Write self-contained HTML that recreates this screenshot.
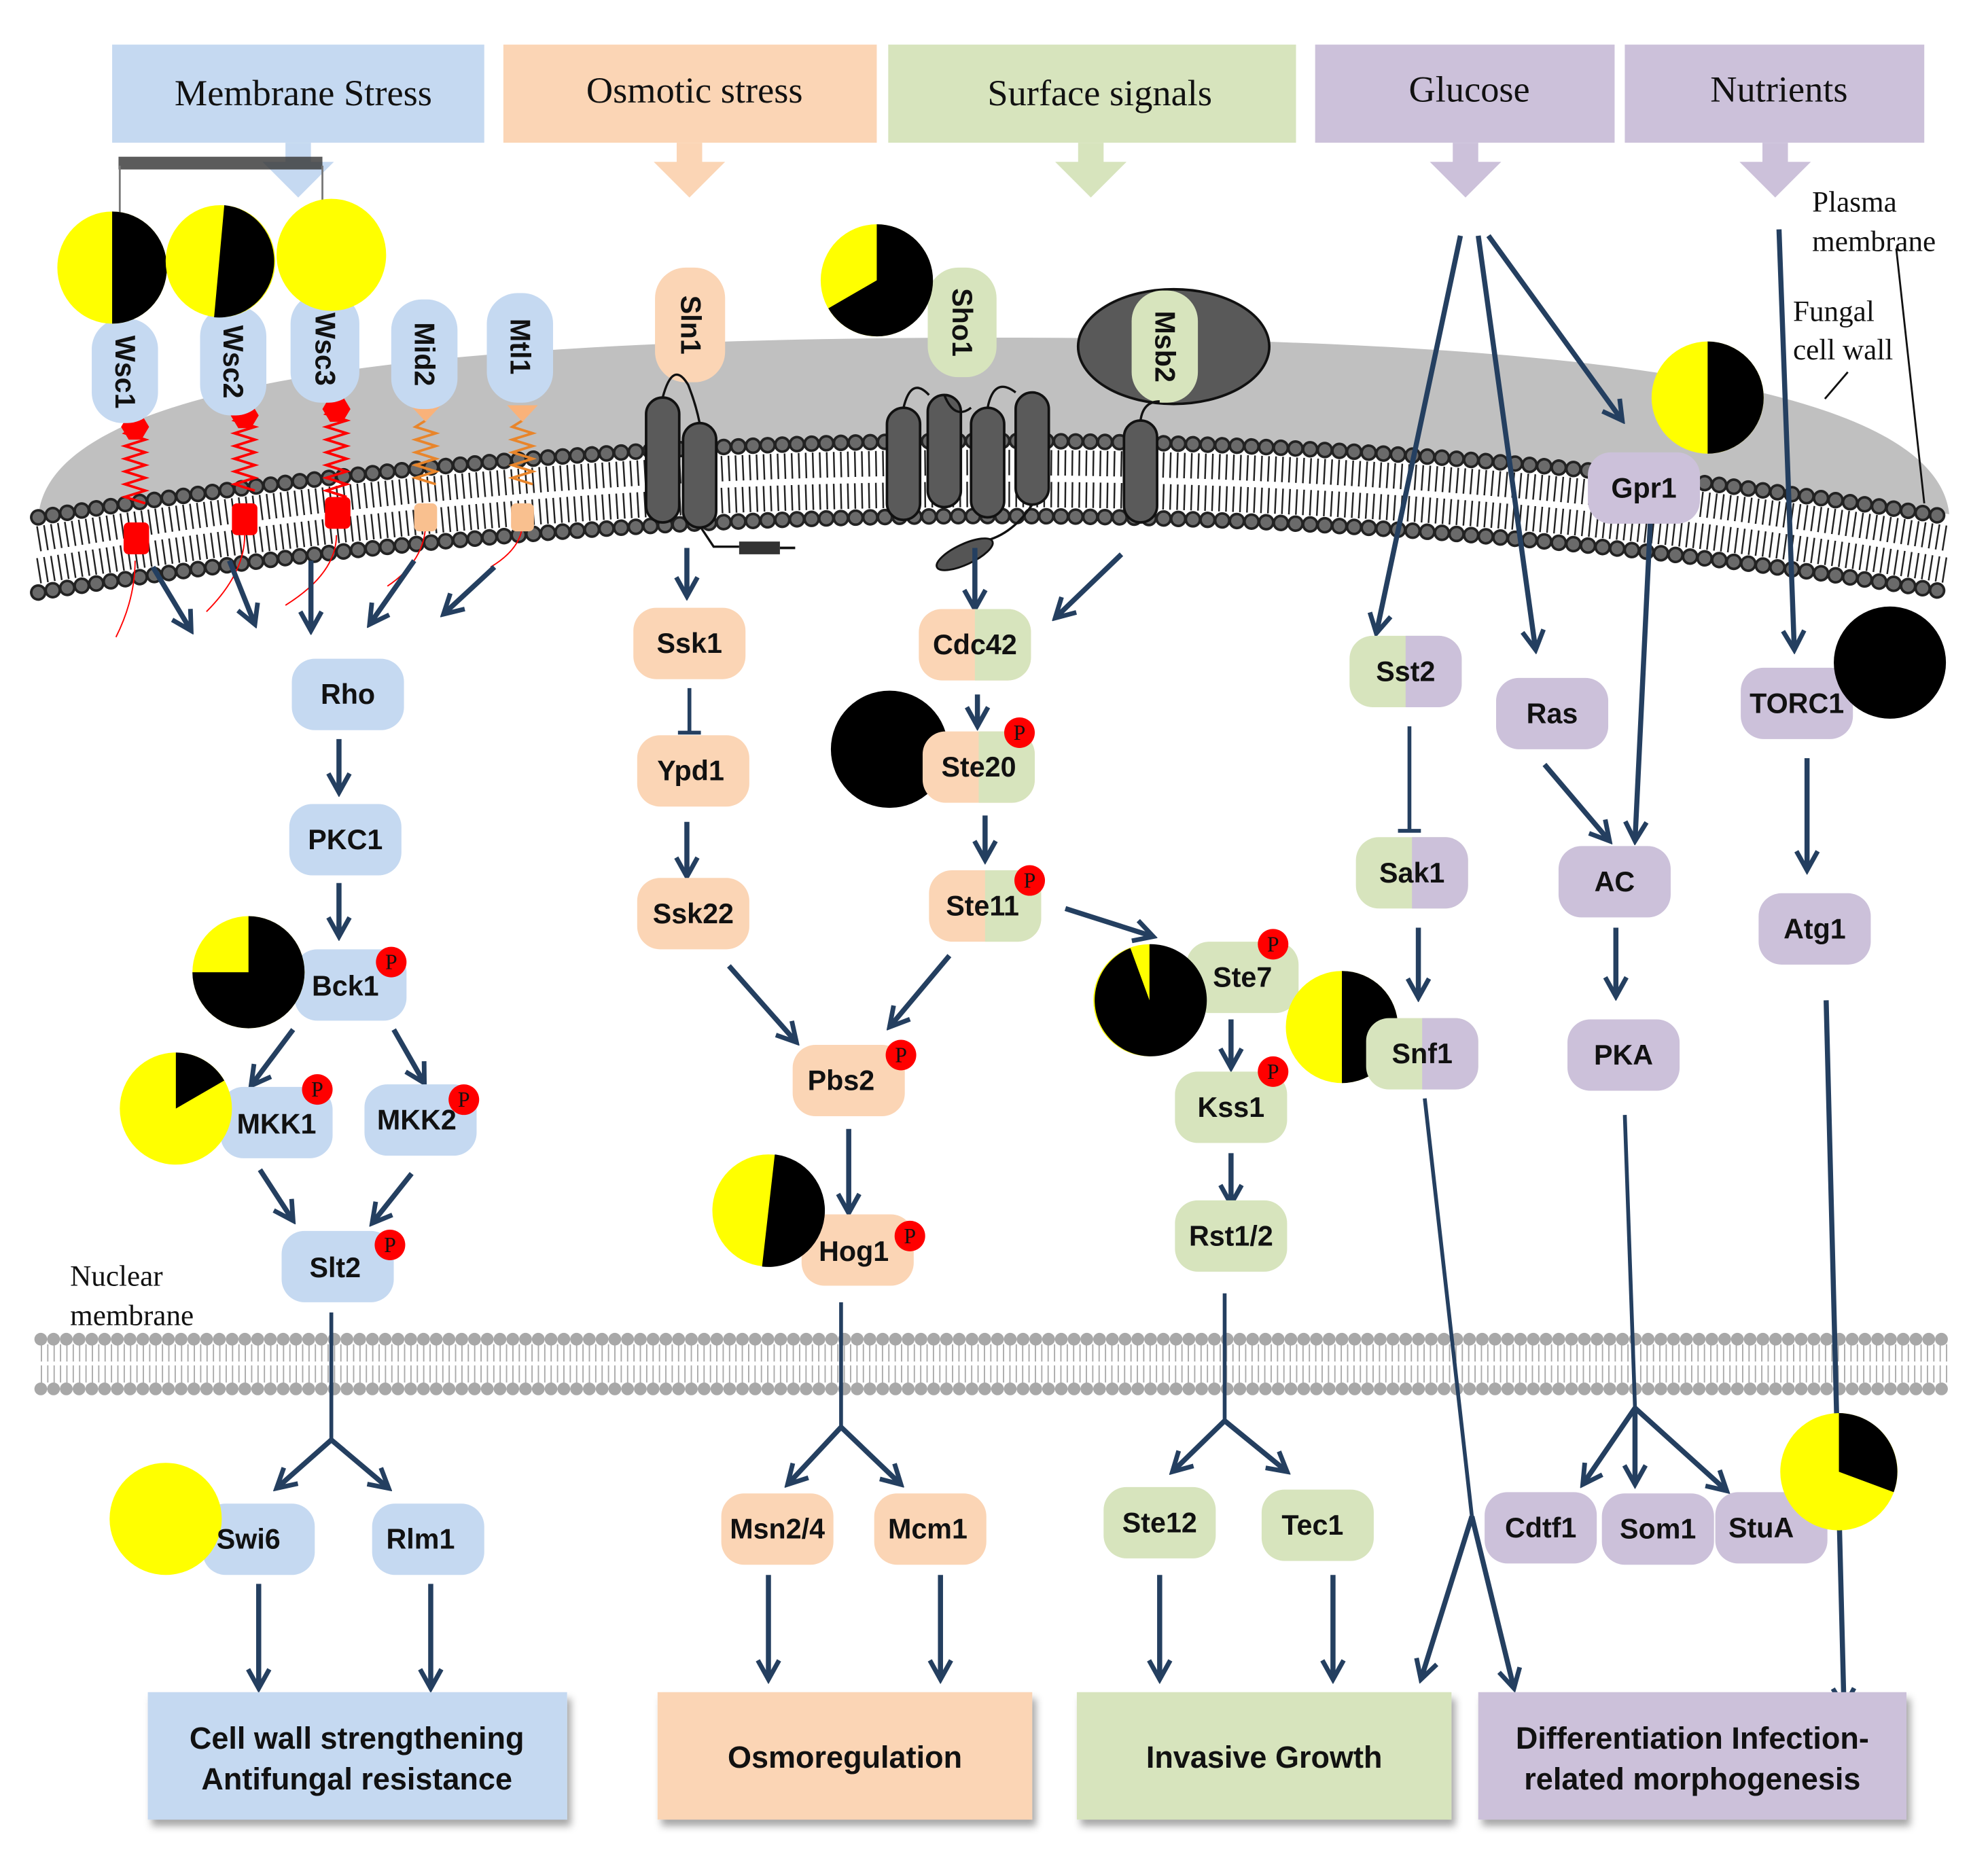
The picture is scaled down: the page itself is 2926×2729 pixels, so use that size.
<!DOCTYPE html>
<html><head><meta charset="utf-8"><style>
html,body{margin:0;padding:0;background:#fff}
svg{display:block}
.n{font-family:"Liberation Sans",sans-serif;font-weight:bold;font-size:22px;fill:#111;text-anchor:middle;dominant-baseline:central}
.h{font-family:"Liberation Serif",serif;font-size:29px;fill:#111;text-anchor:middle;dominant-baseline:central}
.s{font-family:"Liberation Serif",serif;font-size:23px;fill:#111}
.b{font-family:"Liberation Sans",sans-serif;font-weight:bold;font-size:24px;fill:#111;text-anchor:middle;dominant-baseline:central}
.p{font-family:"Liberation Serif",serif;font-size:17px;fill:#111;text-anchor:middle;dominant-baseline:central}
.a{stroke:#243f60;stroke-width:4;fill:none;marker-end:url(#ah)}
.l{stroke:#243f60;stroke-width:3;fill:none}
</style></head><body>
<svg width="2926" height="2729" viewBox="0 0 1560 1455" preserveAspectRatio="none" xmlns="http://www.w3.org/2000/svg">
<defs>
<marker id="ah" viewBox="0 0 12 12" refX="10" refY="6" markerWidth="5" markerHeight="5" orient="auto" markerUnits="strokeWidth">
<path d="M1,1 L10,6 L1,11" fill="none" stroke="#243f60" stroke-width="2.2"/>
</marker>
<filter id="sh" x="-5%" y="-5%" width="115%" height="125%"><feDropShadow dx="3" dy="5" stdDeviation="3" flood-color="#000" flood-opacity="0.35"/></filter>
</defs>

<!-- headers -->
<rect x="88" y="35" width="292" height="77" fill="#c5d9f1"/>
<rect x="395" y="35" width="293" height="77" fill="#fbd5b5"/>
<rect x="697" y="35" width="320" height="77" fill="#d7e4bd"/>
<rect x="1032" y="35" width="235" height="77" fill="#ccc1da"/>
<rect x="1275" y="35" width="235" height="77" fill="#ccc1da"/>
<text class="h" x="238" y="73">Membrane Stress</text>
<text class="h" x="545" y="71">Osmotic stress</text>
<text class="h" x="863" y="73">Surface signals</text>
<text class="h" x="1153" y="70">Glucose</text>
<text class="h" x="1396" y="70">Nutrients</text>
<path d="M224,112h20v15h18l-28,28l-28,-28h18z" fill="#c5d9f1"/>
<path d="M531,112h20v15h18l-28,28l-28,-28h18z" fill="#fbd5b5"/>
<path d="M846,112h20v15h18l-28,28l-28,-28h18z" fill="#d7e4bd"/>
<path d="M1140,112h20v15h18l-28,28l-28,-28h18z" fill="#ccc1da"/>
<path d="M1383,112h20v15h18l-28,28l-28,-28h18z" fill="#ccc1da"/>
<rect x="93" y="123" width="160" height="10" fill="#333" opacity="0.8"/>
<path d="M94,130V175M253,130V170" stroke="#777" stroke-width="1.5"/>

<!-- cell wall dome -->
<path d="M30,410 C30,300 330,265 780,265 C1230,265 1530,300 1530,410 Q780,290 30,410 Z" fill="#c0c0c0"/>
<!-- bilayer -->
<path d="M30,435 Q780,315 1530,435" stroke="#fff" stroke-width="62" fill="none"/>
<path d="M30,423 Q780,303 1530,423" stroke="#222" stroke-width="20" stroke-dasharray="1.3 4.2" fill="none"/>
<path d="M30,448 Q780,328 1530,448" stroke="#222" stroke-width="20" stroke-dasharray="1.3 4.2" fill="none"/>
<path d="M30,435 Q780,315 1530,435" stroke="#fff" stroke-width="4" fill="none"/>
<path d="M30,406 Q780,286 1530,406" stroke="#222" stroke-width="13" stroke-dasharray="0.01 11.5" stroke-linecap="round" fill="none"/>
<path d="M30,406 Q780,286 1530,406" stroke="#6a6a6a" stroke-width="9" stroke-dasharray="0.01 11.5" stroke-linecap="round" fill="none"/>
<path d="M30,465 Q780,345 1530,465" stroke="#222" stroke-width="13" stroke-dasharray="0.01 11.5" stroke-linecap="round" fill="none"/>
<path d="M30,465 Q780,345 1530,465" stroke="#6a6a6a" stroke-width="9" stroke-dasharray="0.01 11.5" stroke-linecap="round" fill="none"/>

<!-- nuclear membrane -->
<rect x="32" y="1050" width="1498" height="40" fill="#fff"/>
<path d="M32,1070H1530" stroke="#aaa" stroke-width="30" stroke-dasharray="1 4" fill="none"/>
<path d="M32,1070H1530" stroke="#fff" stroke-width="3"/>
<path d="M32,1051H1530M32,1090H1530" stroke="#a8a8a8" stroke-width="10" stroke-dasharray="0.01 10" stroke-linecap="round"/>

<!-- receptors stalks -->
<g stroke-width="2" fill="none">
<path d="M106,335 l-8,5 16,5 -16,5 16,5 -16,5 16,5 -16,5 16,5 -16,5 16,5 -16,5 16,5" stroke="red"/>
<path d="M192,325 l-8,5 16,5 -16,5 16,5 -16,5 16,5 -16,5 16,5 -16,5 16,5 -16,5 16,5" stroke="red"/>
<path d="M264,320 l-8,5 16,5 -16,5 16,5 -16,5 16,5 -16,5 16,5 -16,5 16,5 -16,5 16,5 -16,5 16,5" stroke="red"/>
<path d="M334,330 l-8,5 16,5 -16,5 16,5 -16,5 16,5 -16,5 16,5 -16,5 16,5" stroke="#e8852b"/>
<path d="M410,330 l-8,5 16,5 -16,5 16,5 -16,5 16,5 -16,5 16,5 -16,5 16,5" stroke="#e8852b"/>
<path d="M106,440 q0,30 -15,60M192,420 q0,30 -30,60M264,420 q0,30 -40,55M334,410 q0,30 -30,50M410,410 q0,20 -25,35" stroke="red" stroke-width="1"/>
</g>
<path d="M95,335l6,-10h10l6,10l-6,10h-10z" fill="red"/>
<path d="M181,326l6,-10h10l6,10l-6,10h-10z" fill="red"/>
<path d="M253,321l6,-10h10l6,10l-6,10h-10z" fill="red"/>
<path d="M322,318h24l-12,13z" fill="#f9b27a"/>
<path d="M398,318h24l-12,13z" fill="#f9b27a"/>
<rect x="97" y="410" width="20" height="25" rx="4" fill="red"/>
<rect x="182" y="395" width="20" height="25" rx="4" fill="red"/>
<rect x="255" y="390" width="20" height="25" rx="4" fill="red"/>
<rect x="325" y="395" width="18" height="22" rx="4" fill="#f9c08f"/>
<rect x="401" y="395" width="18" height="22" rx="4" fill="#f9c08f"/>

<!-- receptor pills -->
<rect x="72" y="250" width="52" height="82" rx="24" fill="#c5d9f1"/>
<rect x="157" y="240" width="52" height="86" rx="24" fill="#c5d9f1"/>
<rect x="228" y="230" width="54" height="86" rx="24" fill="#c5d9f1"/>
<rect x="307" y="235" width="52" height="86" rx="24" fill="#c5d9f1"/>
<rect x="382" y="230" width="52" height="86" rx="24" fill="#c5d9f1"/>
<text class="n" transform="translate(98,292) rotate(90)">Wsc1</text>
<text class="n" transform="translate(183,284) rotate(90)">Wsc2</text>
<text class="n" transform="translate(255,274) rotate(90)">Wsc3</text>
<text class="n" transform="translate(333,278) rotate(90)">Mid2</text>
<text class="n" transform="translate(408,272) rotate(90)">Mtl1</text>

<rect x="514" y="210" width="55" height="90" rx="24" fill="#fbd5b5"/>
<text class="n" transform="translate(542,255) rotate(90)">Sln1</text>
<rect x="728" y="210" width="54" height="86" rx="24" fill="#d7e4bd"/>
<text class="n" transform="translate(755,253) rotate(90)">Sho1</text>
<ellipse cx="921" cy="272" rx="75" ry="45" fill="#595959" stroke="#111" stroke-width="2"/>
<rect x="888" y="228" width="52" height="88" rx="24" fill="#d7e4bd"/>
<text class="n" transform="translate(914,272) rotate(90)">Msb2</text>

<!-- TM helices -->
<g fill="#5a5a5a" stroke="#111" stroke-width="2">
<rect x="507" y="312" width="26" height="98" rx="13"/>
<rect x="536" y="332" width="26" height="82" rx="13"/>
<rect x="696" y="320" width="26" height="88" rx="13"/>
<rect x="728" y="310" width="26" height="88" rx="13"/>
<rect x="762" y="320" width="26" height="86" rx="13"/>
<rect x="797" y="308" width="26" height="88" rx="13"/>
<rect x="882" y="330" width="26" height="80" rx="13"/>
</g>
<g stroke="#111" stroke-width="1.8" fill="none">
<path d="M520,312 q8,-30 20,-10 q6,15 9,30M709,320 q6,-25 20,-10M741,310 q8,20 21,10M775,320 q5,-25 22,-12M895,330 q2,-15 15,-15M550,414 l10,15 h20"/>
<path d="M810,396 q-20,30 -50,30"/>
</g>
<rect x="580" y="425" width="32" height="10" fill="#333"/>
<path d="M612,430h12" stroke="#111" stroke-width="2"/>
<ellipse cx="757" cy="435" rx="24" ry="8" transform="rotate(-25 757 435)" fill="#555" stroke="#111" stroke-width="1.5"/>

<!-- pies top -->
<ellipse cx="88" cy="210" rx="43" ry="44" fill="#ffff00"/><path d="M88,166 A43,44 0 0 1 88,254 Z" fill="#000"/>
<ellipse cx="173" cy="205" rx="43" ry="44" fill="#ffff00"/><path d="M176,161 A43,44 0 0 1 168,249 Z" fill="#000"/>
<ellipse cx="260" cy="200" rx="43" ry="44" fill="#ffff00"/>
<circle cx="688" cy="220" r="44" fill="#ffff00"/><path d="M688,220 L688,176 A44,44 0 1 1 650,242 Z" fill="#000"/>
<circle cx="1340" cy="312" r="44" fill="#ffff00"/><path d="M1340,268 A44,44 0 0 1 1340,356 Z" fill="#000"/>

<!-- labels right -->
<text class="s" x="1422" y="166">Plasma</text>
<text class="s" x="1422" y="197">membrane</text>
<text class="s" x="1407" y="252">Fungal</text>
<text class="s" x="1407" y="282">cell wall</text>
<path d="M1488,195 L1510,395 M1450,292 L1432,313" stroke="#111" stroke-width="1.5"/>
<text class="s" x="55" y="1009">Nuclear</text>
<text class="s" x="55" y="1040">membrane</text>

<!-- arrows -->
<path class="a" d="M120,445 L150,495"/>
<path class="a" d="M180,440 L200,490"/>
<path class="a" d="M244,440 L244,495"/>
<path class="a" d="M325,440 L290,490"/>
<path class="a" d="M388,445 L348,482"/>
<path class="a" d="M266,580 L266,622"/>
<path class="a" d="M266,693 L266,735"/>
<path class="a" d="M230,808 L197,852"/>
<path class="a" d="M309,808 L333,850"/>
<path class="a" d="M204,918 L230,958"/>
<path class="a" d="M323,921 L292,960"/>
<path class="l" d="M260,1030 L260,1130"/>
<path class="a" d="M260,1130 L217,1168"/>
<path class="a" d="M260,1130 L305,1168"/>
<path class="a" d="M203,1243 L203,1325"/>
<path class="a" d="M338,1243 L338,1325"/>
<path class="a" d="M539,430 L539,468"/>
<path class="l" d="M541,540 L541,575 M532,575 H550"/>
<path class="a" d="M539,645 L539,688"/>
<path class="a" d="M572,758 L625,818"/>
<path class="a" d="M745,750 L698,806"/>
<path class="a" d="M666,886 L666,952"/>
<path class="l" d="M660,1022 L660,1120"/>
<path class="a" d="M660,1120 L618,1165"/>
<path class="a" d="M660,1120 L707,1165"/>
<path class="a" d="M603,1236 L603,1318"/>
<path class="a" d="M738,1236 L738,1318"/>
<path class="a" d="M765,430 L765,478"/>
<path class="a" d="M880,435 L828,485"/>
<path class="a" d="M767,545 L767,570"/>
<path class="a" d="M773,640 L773,675"/>
<path class="a" d="M836,713 L905,735"/>
<path class="a" d="M966,800 L966,838"/>
<path class="a" d="M966,905 L966,945"/>
<path class="l" d="M961,1015 L961,1115"/>
<path class="a" d="M961,1115 L920,1155"/>
<path class="a" d="M961,1115 L1010,1155"/>
<path class="a" d="M910,1236 L910,1318"/>
<path class="a" d="M1046,1236 L1046,1318"/>
<path class="a" d="M1146,185 L1080,497"/>
<path class="a" d="M1160,185 L1205,510"/>
<path class="a" d="M1168,185 L1273,330"/>
<path class="l" d="M1106,570 L1106,652 M1097,652 H1115"/>
<path class="a" d="M1113,728 L1113,783"/>
<path class="l" d="M1118,862 L1155,1190"/>
<path class="a" d="M1155,1190 L1115,1318"/>
<path class="a" d="M1155,1190 L1188,1325"/>
<path class="a" d="M1212,600 L1263,660"/>
<path class="a" d="M1295,410 L1283,660"/>
<path class="a" d="M1268,728 L1268,782"/>
<path class="l" d="M1275,875 L1283,1105"/>
<path class="a" d="M1283,1105 L1242,1165"/>
<path class="a" d="M1283,1105 L1283,1165"/>
<path class="a" d="M1283,1105 L1355,1170"/>
<path class="a" d="M1396,180 L1408,510"/>
<path class="a" d="M1418,595 L1418,683"/>
<path class="a" d="M1433,785 L1447,1340"/>

<!-- nodes -->
<g>
<rect x="229" y="517" width="88" height="56" rx="18" fill="#c5d9f1"/><text class="n" x="273" y="545">Rho</text>
<rect x="227" y="631" width="88" height="56" rx="18" fill="#c5d9f1"/><text class="n" x="271" y="659">PKC1</text>
<rect x="231" y="745" width="88" height="56" rx="18" fill="#c5d9f1"/>
<rect x="173" y="853" width="88" height="56" rx="18" fill="#c5d9f1"/>
<rect x="286" y="851" width="88" height="56" rx="18" fill="#c5d9f1"/><text class="n" x="327" y="879">MKK2</text>
<rect x="221" y="966" width="88" height="56" rx="18" fill="#c5d9f1"/><text class="n" x="263" y="995">Slt2</text>
<rect x="159" y="1180" width="88" height="56" rx="18" fill="#c5d9f1"/>
<rect x="292" y="1180" width="88" height="56" rx="18" fill="#c5d9f1"/><text class="n" x="330" y="1208">Rlm1</text>

<rect x="497" y="477" width="88" height="56" rx="18" fill="#fbd5b5"/><text class="n" x="541" y="505">Ssk1</text>
<rect x="500" y="577" width="88" height="56" rx="18" fill="#fbd5b5"/><text class="n" x="542" y="605">Ypd1</text>
<rect x="500" y="689" width="88" height="56" rx="18" fill="#fbd5b5"/><text class="n" x="544" y="717">Ssk22</text>
<rect x="622" y="820" width="88" height="56" rx="18" fill="#fbd5b5"/><text class="n" x="660" y="848">Pbs2</text>
<rect x="629" y="953" width="88" height="56" rx="18" fill="#fbd5b5"/>
<rect x="566" y="1172" width="88" height="56" rx="18" fill="#fbd5b5"/><text class="n" x="610" y="1200">Msn2/4</text>
<rect x="686" y="1172" width="88" height="56" rx="18" fill="#fbd5b5"/><text class="n" x="728" y="1200">Mcm1</text>

<rect x="721" y="478" width="88" height="56" rx="18" fill="#fbd5b5"/><path d="M765,478h26a18,18 0 0 1 18,18v20a18,18 0 0 1 -18,18h-26z" fill="#d7e4bd"/><text class="n" x="765" y="506">Cdc42</text>
<circle cx="698" cy="588" r="46" fill="#000"/>
<rect x="724" y="574" width="88" height="56" rx="18" fill="#fbd5b5"/><path d="M768,574h26a18,18 0 0 1 18,18v20a18,18 0 0 1 -18,18h-26z" fill="#d7e4bd"/><text class="n" x="768" y="602">Ste20</text>
<rect x="729" y="683" width="88" height="56" rx="18" fill="#fbd5b5"/><path d="M773,683h26a18,18 0 0 1 18,18v20a18,18 0 0 1 -18,18h-26z" fill="#d7e4bd"/><text class="n" x="771" y="711">Ste11</text>

<rect x="931" y="739" width="88" height="56" rx="18" fill="#d7e4bd"/>
<rect x="922" y="841" width="88" height="56" rx="18" fill="#d7e4bd"/><text class="n" x="966" y="869">Kss1</text>
<rect x="922" y="942" width="88" height="56" rx="18" fill="#d7e4bd"/><text class="n" x="966" y="970">Rst1/2</text>
<rect x="866" y="1167" width="88" height="56" rx="18" fill="#d7e4bd"/><text class="n" x="910" y="1195">Ste12</text>
<rect x="990" y="1169" width="88" height="56" rx="18" fill="#d7e4bd"/><text class="n" x="1030" y="1197">Tec1</text>

<rect x="1059" y="499" width="88" height="56" rx="18" fill="#d7e4bd"/><path d="M1103,499h26a18,18 0 0 1 18,18v20a18,18 0 0 1 -18,18h-26z" fill="#ccc1da"/><text class="n" x="1103" y="527">Sst2</text>
<rect x="1064" y="657" width="88" height="56" rx="18" fill="#d7e4bd"/><path d="M1108,657h26a18,18 0 0 1 18,18v20a18,18 0 0 1 -18,18h-26z" fill="#ccc1da"/><text class="n" x="1108" y="685">Sak1</text>

<rect x="1174" y="532" width="88" height="56" rx="18" fill="#ccc1da"/><text class="n" x="1218" y="560">Ras</text>
<rect x="1246" y="355" width="88" height="56" rx="18" fill="#ccc1da"/><text class="n" x="1290" y="383">Gpr1</text>
<rect x="1366" y="524" width="88" height="56" rx="18" fill="#ccc1da"/>
<rect x="1223" y="664" width="88" height="56" rx="18" fill="#ccc1da"/><text class="n" x="1267" y="692">AC</text>
<rect x="1230" y="800" width="88" height="56" rx="18" fill="#ccc1da"/><text class="n" x="1274" y="828">PKA</text>
<rect x="1380" y="701" width="88" height="56" rx="18" fill="#ccc1da"/><text class="n" x="1424" y="729">Atg1</text>
<rect x="1165" y="1171" width="88" height="56" rx="18" fill="#ccc1da"/><text class="n" x="1209" y="1199">Cdtf1</text>
<rect x="1257" y="1172" width="88" height="56" rx="18" fill="#ccc1da"/><text class="n" x="1301" y="1200">Som1</text>
</g>

<!-- pies lower -->
<circle cx="195" cy="763" r="44" fill="#ffff00"/><path d="M195,763 L195,719 A44,44 0 1 1 151,763 Z" fill="#000"/>
<text class="n" x="271" y="774">Bck1</text>
<circle cx="138" cy="870" r="44" fill="#ffff00"/><path d="M138,870 L138,826 A44,44 0 0 1 176,848 Z" fill="#000"/>
<text class="n" x="217" y="882">MKK1</text>
<circle cx="603" cy="950" r="44" fill="#ffff00"/><path d="M608,906 A44,44 0 0 1 598,994 Z" fill="#000"/>
<text class="n" x="670" y="982">Hog1</text>
<circle cx="902" cy="785" r="44" fill="#ffff00"/><path d="M902,785 L902,741 A44,44 0 1 1 887,744 Z" fill="#000"/>
<text class="n" x="975" y="767">Ste7</text>
<circle cx="1053" cy="806" r="44" fill="#ffff00"/><path d="M1053,762 A44,44 0 0 1 1053,850 Z" fill="#000"/>
<rect x="1072" y="799" width="88" height="56" rx="18" fill="#d7e4bd"/><path d="M1116,799h26a18,18 0 0 1 18,18v20a18,18 0 0 1 -18,18h-26z" fill="#ccc1da"/><text class="n" x="1116" y="827">Snf1</text>
<circle cx="130" cy="1192" r="44" fill="#ffff00"/>
<text class="n" x="195" y="1208">Swi6</text>
<rect x="1346" y="1171" width="88" height="56" rx="18" fill="#ccc1da"/>
<circle cx="1443" cy="1155" r="46" fill="#ffff00"/><path d="M1443,1155 L1443,1109 A46,46 0 0 1 1486,1171 Z" fill="#000"/>
<text class="n" x="1382" y="1199">StuA</text>
<text class="n" x="1410" y="552">TORC1</text>
<circle cx="1483" cy="520" r="44" fill="#000"/>

<!-- P badges -->
<g>
<circle cx="307" cy="755" r="12" fill="red"/><text class="p" x="307" y="755">P</text>
<circle cx="249" cy="855" r="12" fill="red"/><text class="p" x="249" y="855">P</text>
<circle cx="364" cy="863" r="12" fill="red"/><text class="p" x="364" y="863">P</text>
<circle cx="306" cy="977" r="12" fill="red"/><text class="p" x="306" y="977">P</text>
<circle cx="707" cy="828" r="12" fill="red"/><text class="p" x="707" y="828">P</text>
<circle cx="714" cy="970" r="12" fill="red"/><text class="p" x="714" y="970">P</text>
<circle cx="800" cy="575" r="12" fill="red"/><text class="p" x="800" y="575">P</text>
<circle cx="808" cy="691" r="12" fill="red"/><text class="p" x="808" y="691">P</text>
<circle cx="999" cy="741" r="12" fill="red"/><text class="p" x="999" y="741">P</text>
<circle cx="999" cy="841" r="12" fill="red"/><text class="p" x="999" y="841">P</text>
</g>

<!-- bottom boxes -->
<rect x="116" y="1328" width="329" height="100" fill="#c5d9f1" filter="url(#sh)"/>
<rect x="516" y="1328" width="294" height="100" fill="#fbd5b5" filter="url(#sh)"/>
<rect x="845" y="1328" width="294" height="100" fill="#d7e4bd" filter="url(#sh)"/>
<rect x="1160" y="1328" width="336" height="100" fill="#ccc1da" filter="url(#sh)"/>
<text class="b" x="280" y="1364">Cell wall strengthening</text>
<text class="b" x="280" y="1396">Antifungal resistance</text>
<text class="b" x="663" y="1379">Osmoregulation</text>
<text class="b" x="992" y="1379">Invasive Growth</text>
<text class="b" x="1328" y="1364">Differentiation Infection-</text>
<text class="b" x="1328" y="1396">related morphogenesis</text>
</svg>
</body></html>
